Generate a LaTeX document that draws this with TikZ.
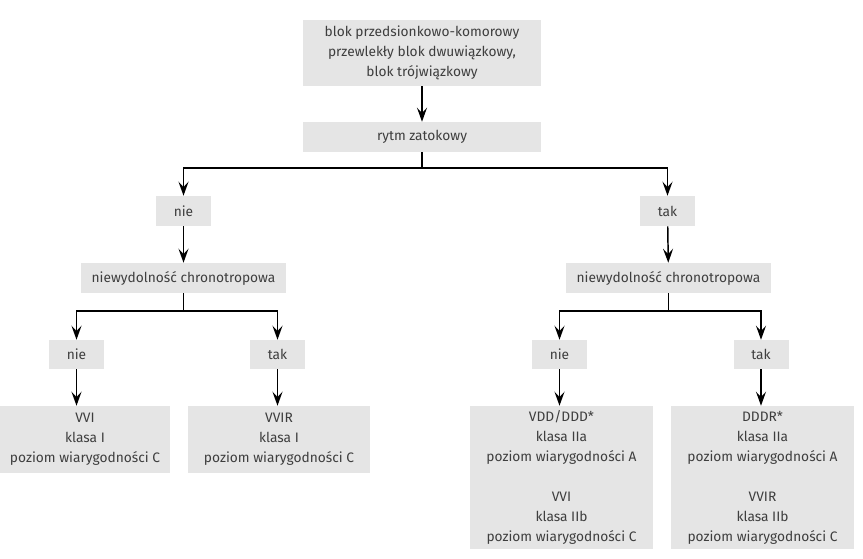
\documentclass[tikz,border=0pt]{standalone}
\usepackage{fontspec}
\setmainfont{Fira Sans}
\usepackage{tikz}
\usetikzlibrary{arrows.meta,positioning}
\definecolor{BoxGray}{RGB}{229,229,229}
\definecolor{TextGray}{RGB}{62,62,62}
\newdimen\px \px=0.75pt

\begin{document}
\begin{tikzpicture}[x=\px,y=-\px,>={Stealth[length=10.5pt,width=7.5pt,inset=4pt]},
    box/.style={fill=BoxGray,text=TextGray,align=center,inner sep=0pt,
      font=\fontsize{10.3}{15}\selectfont},
    link/.style={->,line width=1.1pt}]
      \useasboundingbox (0,0) rectangle (863,558);
      \node[box,minimum width=238\px,minimum height=66\px] (av) at (422,53)
        {blok przedsionkowo-komorowy\\przewlekły blok dwuwiązkowy,\\blok trójwiązkowy};
      \node[box,minimum width=238\px,minimum height=30\px] (sinus) at (422,137) {rytm zatokowy};
      \node[box,minimum width=55\px,minimum height=30\px] (noA) at (183.5,211) {nie};
      \node[box,minimum width=55\px,minimum height=30\px] (yesA) at (667.5,211) {tak};
      \node[box,minimum width=205\px,minimum height=30\px] (chronoL) at (183.5,278) {niewydolność chronotropowa};
      \node[box,minimum width=205\px,minimum height=30\px] (chronoR) at (668.5,278) {niewydolność chronotropowa};
      \node[box,minimum width=55\px,minimum height=29\px] (noL) at (76.5,354.5) {nie};
      \node[box,minimum width=55\px,minimum height=29\px] (yesL) at (277.5,354.5) {tak};
      \node[box,minimum width=55\px,minimum height=29\px] (noR) at (559.5,354.5) {nie};
      \node[box,minimum width=55\px,minimum height=29\px] (yesR) at (761,354.5) {tak};
      \node[box,minimum width=170\px,minimum height=67\px] (vvi) at (85,439.5)
        {VVI\\klasa I\\poziom wiarygodności C};
      \node[box,minimum width=182\px,minimum height=67\px] (vvir) at (279,439.5)
        {VVIR\\klasa I\\poziom wiarygodności C};
      \node[box,minimum width=183\px,minimum height=143\px] (vdd) at (561.5,477.5)
        {VDD/DDD*\\klasa IIa\\poziom wiarygodności A\\[15pt]VVI\\klasa IIb\\poziom wiarygodności C};
      \node[box,minimum width=183\px,minimum height=143\px] (dddr) at (762.5,477.5)
        {DDDR*\\klasa IIa\\poziom wiarygodności A\\[15pt]VVIR\\klasa IIb\\poziom wiarygodności C};
      % top part
      \draw[link] (av) -- (sinus);
      \draw[line width=1.1pt] (sinus) -- (sinus.south |- 0,168) coordinate (forkTop);
      \draw[link] (forkTop) -| (noA);
      \draw[link] (forkTop) -| (yesA);
      \draw[link] (noA) -- (chronoL);
      \draw[link] (yesA) -- (chronoR);
      % left branch
      \draw[line width=1.1pt] (chronoL) -- (chronoL.south |- 0,311) coordinate (forkL);
      \draw[link] (forkL) -| (noL);
      \draw[link] (forkL) -| (yesL);
      \draw[link] (noL) -- (noL.south |- vvi.north);
      \draw[link] (yesL) -- (yesL.south |- vvir.north);
      % right branch
      \draw[line width=1.1pt] (chronoR) -- (chronoR.south |- 0,311) coordinate (forkR);
      \draw[link] (forkR) -| (noR);
      \draw[link] (forkR) -| (yesR);
      \draw[link] (noR) -- (noR.south |- vdd.north);
      \draw[link] (yesR) -- (yesR.south |- dddr.north);
    \end{tikzpicture}
\end{document}
